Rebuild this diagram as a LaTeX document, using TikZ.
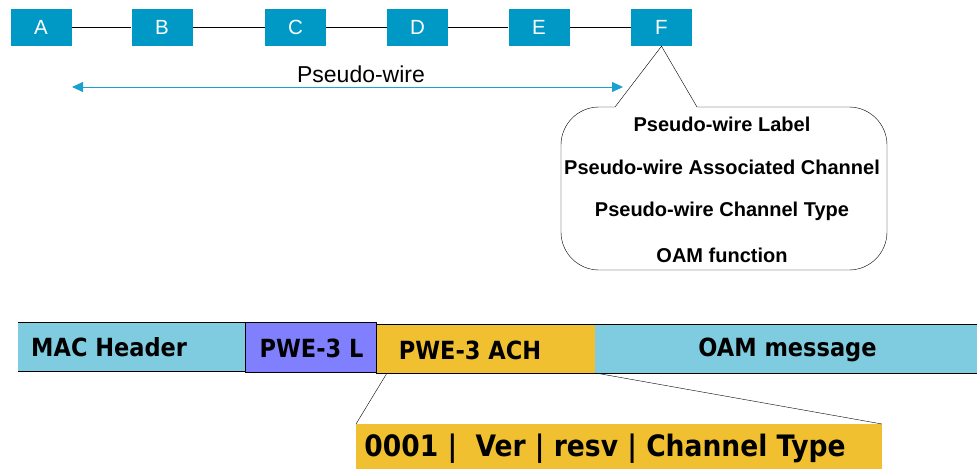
\documentclass[tikz,border=0pt]{standalone}
\usepackage{fontspec}
\setmainfont{Liberation Sans}
\newfontfamily\condfont{DejaVu Sans Condensed}
\usetikzlibrary{arrows.meta}
\definecolor{nodeblue}{RGB}{0,153,198}
\definecolor{wireblue}{RGB}{27,160,207}
\definecolor{lightcyan}{RGB}{127,204,224}
\definecolor{lilac}{RGB}{128,128,255}
\definecolor{gold}{RGB}{240,192,48}
\tikzset{
  hop/.style={fill=nodeblue, text=white, minimum width=61pt, minimum height=37pt, inner sep=0pt, font=\fontsize{20.5}{20.5}\selectfont},
  calltext/.style={font=\bfseries\fontsize{20}{20}\selectfont, inner sep=0pt},
  fieldtext/.style={font=\condfont\bfseries\fontsize{25}{25}\selectfont, inner sep=0pt},
  bigfieldtext/.style={font=\condfont\bfseries\fontsize{29.5}{29.5}\selectfont, inner sep=0pt},
  field/.style={inner sep=0pt, outer sep=0pt},
}
\begin{document}
\begin{tikzpicture}[x=1pt,y=-1pt]
\useasboundingbox (0,0) rectangle (977,469);
% top chain
\node[hop] (A) at (41,27.5) {A};
\node[hop] (B) at (162,27.5) {B};
\node[hop] (C) at (295.5,27.5) {C};
\node[hop] (D) at (417.5,27.5) {D};
\node[hop] (E) at (539,27.5) {E};
\node[hop] (F) at (661.5,27.5) {F};
\draw[thin] (A) -- (B) (B) -- (C) (C) -- (D) (D) -- (E) (E) -- (F);
% pseudo-wire arrow
\coordinate (pwL) at (72,87);
\coordinate (pwR) at (623,87);
\draw[wireblue, line width=1pt, {Triangle[length=11pt,width=10pt]}-{Triangle[length=11pt,width=10pt]}] (pwL) -- (pwR);
\node[font=\fontsize{23}{23}\selectfont, inner sep=0pt] (pwlabel) at (361,74) {Pseudo-wire};
% callout
\draw[thin] (F.south) -- (615,107) [rounded corners=38] -- (561,107) -- (561,270) -- (887,270) -- (887,107) [sharp corners] -- (697,107) -- cycle;
\node[calltext] (c1) at (722,124) {Pseudo-wire Label};
\node[calltext] (c2) at (722,167) {Pseudo-wire Associated Channel};
\node[calltext] (c3) at (722,211) {Pseudo-wire Channel Type};
\node[calltext] (c4) at (722,255) {OAM function};
% bottom bar
\fill[lightcyan] (18,322) rectangle (246,371);
\draw[thin] (18,322) -- (255,322) (18,371) -- (246,371);
\node[field, minimum width=228pt, minimum height=49pt] (mac) at (132,346.5) {};
\node[fieldtext, anchor=west] (mactext) at (31,347) {MAC Header};
\node[field, draw, fill=lilac, minimum width=131pt, minimum height=50pt] (pwl) at (311,347) {};
\node[fieldtext] (pwltext) at (311.5,348) {PWE-3 L};
\node[field, draw, fill=gold, minimum width=219pt, minimum height=49pt] (ach) at (486,348.5) {};
\node[fieldtext] (achtext) at (470,350) {PWE-3 ACH};
\fill[lightcyan] (595,324) rectangle (977,373);
\draw[thin] (595,324) -- (977,324) (595,373) -- (977,373);
\node[field, minimum width=382pt, minimum height=49pt] (oam) at (786,348.5) {};
\node[fieldtext] (oamtext) at (787.5,350) {OAM message};
% detail
\node[field, fill=gold, minimum width=526pt, minimum height=45pt, anchor=north west] (detail) at (356,424) {};
\node[bigfieldtext] (detailtext) at (605,449) {0001 |\ \ Ver | resv | Channel Type};
\draw[thin] (387,373) -- (detail.north west);
\draw[thin] (ach.south east) -- (detail.north east);
\end{tikzpicture}
\end{document}
